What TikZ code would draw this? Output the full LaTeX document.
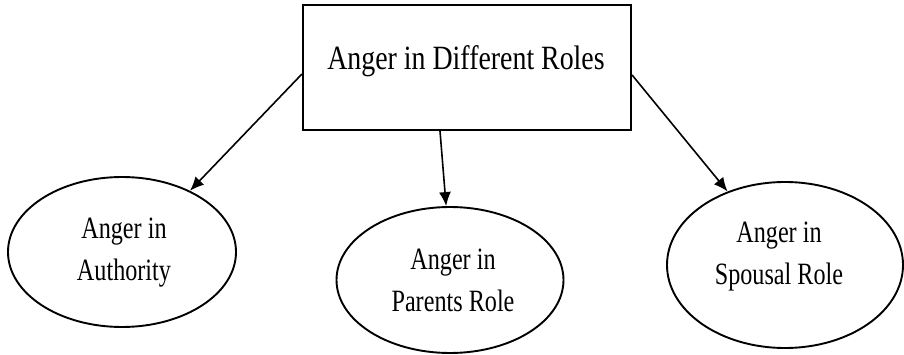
\documentclass[tikz,border=0pt]{standalone}
\usepackage{fontspec}
\setmainfont{Liberation Serif}
\newfontfamily\titlefont[FakeStretch=0.82]{Liberation Serif}
\newfontfamily\ellfont[FakeStretch=0.78]{Liberation Serif}
\usetikzlibrary{shapes.geometric,arrows.meta}
\tikzset{
  rolebox/.style={draw, line width=2.1pt, rectangle, minimum width=328pt, minimum height=125pt, inner sep=0pt},
  roleell/.style={draw, line width=1.9pt, ellipse, inner sep=0pt},
  titletxt/.style={font=\titlefont\fontsize{34}{41}\selectfont, inner sep=0pt, anchor=base},
  elltxt/.style={font=\ellfont\fontsize{31}{42}\selectfont, align=center, inner sep=0pt},
  conn/.style={line width=1.6pt, -{Latex[length=14pt,width=12pt]}}
}
\begin{document}
\begin{tikzpicture}[x=1pt,y=-1pt]
\useasboundingbox (0,0) rectangle (904,355);
\node[rolebox] (title) at (467,67.5) {};
\node[titletxt] (titletext) at (466,70) {Anger in Different Roles};

\node[roleell, minimum width=228pt, minimum height=150pt] (auth) at (122,252) {};
\node[roleell, minimum width=227pt, minimum height=146pt] (par) at (450,280) {};
\node[roleell, minimum width=236pt, minimum height=166pt] (spo) at (785,265) {};

\node[elltxt] (authtext) at (124,253) {Anger in\\Authority};
\node[elltxt] (partext) at (453,280) {Anger in\\Parents Role};
\node[elltxt] (spotext) at (779,257) {Anger in\\Spousal Role};

\coordinate (lstart) at ([yshift=-6.5pt]title.west);
\coordinate (rstart) at ([yshift=-7.5pt]title.east);
\coordinate (mstart) at ([xshift=-27pt]title.south);
\draw[conn] (lstart) -- (auth.42);
\draw[conn] (mstart) -- (par.93);
\draw[conn] (rstart) -- (spo.128);
\end{tikzpicture}
\end{document}
